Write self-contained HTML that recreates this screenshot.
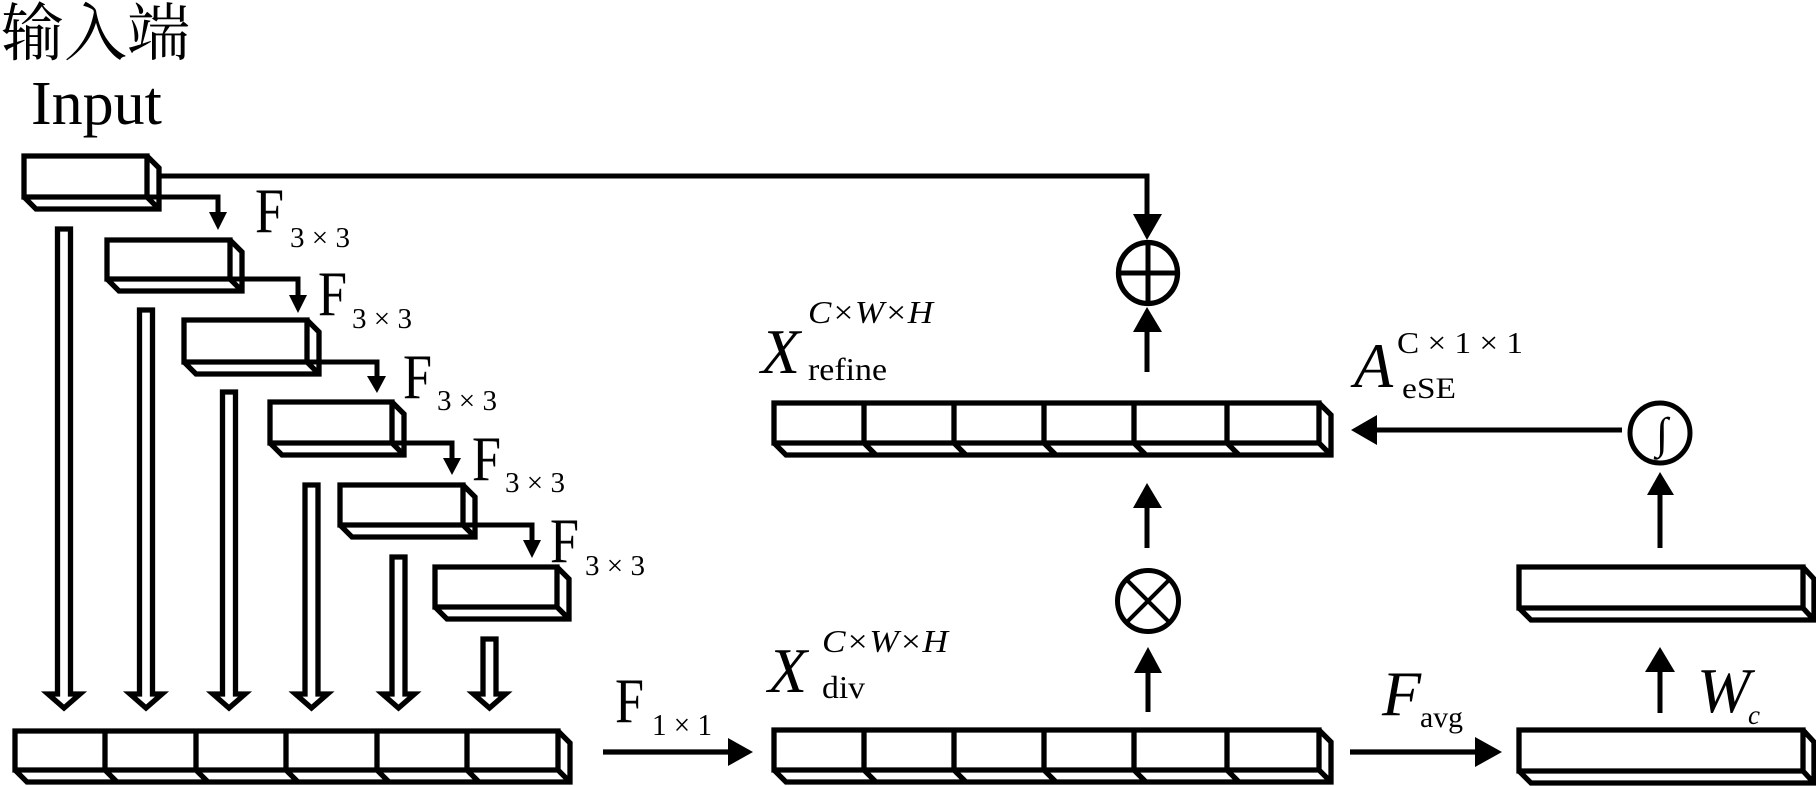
<!DOCTYPE html>
<html>
<head>
<meta charset="utf-8">
<style>
  html,body{margin:0;padding:0;background:#fff;}
  svg{display:block;}
  .r{font-family:"Liberation Serif","Noto Serif CJK SC",serif;fill:#000;}
  .i{font-family:"Liberation Serif",serif;font-style:italic;fill:#000;}
  .b{fill:#fff;stroke:#000;stroke-width:5.3;stroke-linejoin:miter;}
  .l{fill:none;stroke:#000;stroke-width:5;}
  .h{fill:#000;stroke:none;}
</style>
</head>
<body>
<svg width="1816" height="786" viewBox="0 0 1816 786" xmlns="http://www.w3.org/2000/svg">
  <rect x="0" y="0" width="1816" height="786" fill="#fff"/>

  <!-- Title -->
  <text class="r" x="1" y="55" font-size="63">输入端</text>
  <text class="r" x="31" y="124" font-size="62">Input</text>

  <!-- Top connector from input to oplus -->
  <path class="l" d="M158 176 H1147 V216"/>
  <polygon class="h" points="1133,214 1162,214 1147,240"/>

  <!-- Stair boxes -->
  <path class="b" d="M24 156 H147 V197 H24 Z M24 197 L36 209 H159 V168 L147 156 M147 197 L159 209"/>
  <path class="b" d="M107 240 H230 V279 H107 Z M107 279 L119 291 H242 V252 L230 240 M230 279 L242 291"/>
  <path class="b" d="M184 320 H307 V362 H184 Z M184 362 L196 374 H319 V332 L307 320 M307 362 L319 374"/>
  <path class="b" d="M270 402 H392 V443 H270 Z M270 443 L282 455 H404 V414 L392 402 M392 443 L404 455"/>
  <path class="b" d="M340 485 H463 V525 H340 Z M340 525 L352 537 H475 V497 L463 485 M463 525 L475 537"/>
  <path class="b" d="M435 567 H557 V607 H435 Z M435 607 L447 619 H569 V579 L557 567 M557 607 L569 619"/>

  <!-- Stair connectors -->
  <path class="l" d="M147 197 H218 V214"/>
  <polygon class="h" points="209,212 227,212 218,230"/>
  <path class="l" d="M230 279 H298 V297"/>
  <polygon class="h" points="289,295 307,295 298,313"/>
  <path class="l" d="M307 362 H377 V378"/>
  <polygon class="h" points="367,376 386,376 377,393"/>
  <path class="l" d="M392 443 H452 V460"/>
  <polygon class="h" points="443,458 461,458 452,475"/>
  <path class="l" d="M463 525 H532 V542"/>
  <polygon class="h" points="523,540 541,540 532,558"/>

  <!-- F3x3 labels -->
  <text class="r" x="255" y="232" font-size="63" textLength="29" lengthAdjust="spacingAndGlyphs">F</text>
  <text class="r" x="290" y="247" font-size="28" textLength="60" lengthAdjust="spacingAndGlyphs">3 × 3</text>
  <text class="r" x="318" y="315" font-size="63" textLength="29" lengthAdjust="spacingAndGlyphs">F</text>
  <text class="r" x="352" y="328" font-size="28" textLength="60" lengthAdjust="spacingAndGlyphs">3 × 3</text>
  <text class="r" x="403" y="398" font-size="63" textLength="29" lengthAdjust="spacingAndGlyphs">F</text>
  <text class="r" x="437" y="410" font-size="28" textLength="60" lengthAdjust="spacingAndGlyphs">3 × 3</text>
  <text class="r" x="472" y="480" font-size="63" textLength="29" lengthAdjust="spacingAndGlyphs">F</text>
  <text class="r" x="505" y="492" font-size="28" textLength="60" lengthAdjust="spacingAndGlyphs">3 × 3</text>
  <text class="r" x="550" y="562" font-size="63" textLength="29" lengthAdjust="spacingAndGlyphs">F</text>
  <text class="r" x="585" y="575" font-size="28" textLength="60" lengthAdjust="spacingAndGlyphs">3 × 3</text>

  <!-- Hollow arrows -->
  <path class="b" d="M57.5 229 H70.5 V694 H80 L64 708 L48 694 H57.5 Z"/>
  <path class="b" d="M139.5 310 H152.5 V694 H162 L146 708 L130 694 H139.5 Z"/>
  <path class="b" d="M222.5 392 H235.5 V694 H245 L229 708 L213 694 H222.5 Z"/>
  <path class="b" d="M305 485 H318 V694 H327.5 L311.5 708 L295.5 694 H305 Z"/>
  <path class="b" d="M392 557 H405 V694 H414.5 L398.5 708 L382.5 694 H392 Z"/>
  <path class="b" d="M483 639 H496 V694 H505.5 L489.5 708 L473.5 694 H483 Z"/>

  <!-- Bottom-left concatenated bar -->
  <path class="b" d="M15 731 H558 V770 H15 Z M15 770 L27 782 H570 V743 L558 731 M558 770 L570 782
    M105 731 V770 L117 782 M196 731 V770 L208 782 M286 731 V770 L298 782 M377 731 V770 L389 782 M467 731 V770 L479 782"/>

  <!-- F1x1 arrow -->
  <path class="l" style="stroke-width:5.3" d="M603 752 H730"/>
  <polygon class="h" points="728,738 728,766 753,752"/>
  <text class="r" x="615" y="722" font-size="63" textLength="29" lengthAdjust="spacingAndGlyphs">F</text>
  <text class="r" x="652" y="735" font-size="31" textLength="60" lengthAdjust="spacingAndGlyphs">1 × 1</text>

  <!-- X_div bar -->
  <path class="b" d="M774 730 H1319 V770 H774 Z M774 770 L786 782 H1331 V742 L1319 730 M1319 770 L1331 782
    M864 730 V770 L876 782 M954 730 V770 L966 782 M1044 730 V770 L1056 782 M1134 730 V770 L1146 782 M1227 730 V770 L1239 782"/>
  <text class="i" x="768" y="692" font-size="64">X</text>
  <text class="i" x="822" y="652" font-size="32" textLength="126" lengthAdjust="spacingAndGlyphs">C×W×H</text>
  <text class="r" x="822" y="698" font-size="32" textLength="43" lengthAdjust="spacingAndGlyphs">div</text>

  <!-- X_refine bar -->
  <path class="b" d="M774 403 H1319 V443 H774 Z M774 443 L786 455 H1331 V415 L1319 403 M1319 443 L1331 455
    M864 403 V443 L876 455 M954 403 V443 L966 455 M1044 403 V443 L1056 455 M1134 403 V443 L1146 455 M1227 403 V443 L1239 455"/>
  <text class="i" x="761" y="373" font-size="64">X</text>
  <text class="i" x="808" y="323" font-size="32" textLength="125" lengthAdjust="spacingAndGlyphs">C×W×H</text>
  <text class="r" x="808" y="380" font-size="32" textLength="79" lengthAdjust="spacingAndGlyphs">refine</text>

  <!-- oplus -->
  <ellipse cx="1148" cy="273" rx="29.5" ry="30.5" fill="#fff" stroke="#000" stroke-width="5.3"/>
  <path class="l" d="M1148 243 V303 M1118.5 273 H1177.5"/>
  <!-- Xrefine -> oplus -->
  <path class="l" d="M1147 372 V330"/>
  <polygon class="h" points="1133,332 1162,332 1147,307"/>

  <!-- otimes -->
  <circle cx="1148" cy="601" r="30.5" fill="#fff" stroke="#000" stroke-width="5"/>
  <path class="l" style="stroke-width:4" d="M1126.4 579.4 L1169.6 622.6 M1169.6 579.4 L1126.4 622.6"/>
  <!-- otimes -> Xrefine -->
  <path class="l" d="M1147 548 V506"/>
  <polygon class="h" points="1133,508 1162,508 1147,483"/>
  <!-- Xdiv -> otimes -->
  <path class="l" d="M1148 712 V671"/>
  <polygon class="h" points="1134,673 1162,673 1148,647"/>

  <!-- F_avg arrow -->
  <path class="l" style="stroke-width:5.3" d="M1350 752 H1477"/>
  <polygon class="h" points="1475,737 1475,767 1502,752"/>
  <text class="i" x="1382" y="715" font-size="64">F</text>
  <text class="r" x="1420" y="727" font-size="30" textLength="43" lengthAdjust="spacingAndGlyphs">avg</text>

  <!-- Right boxes -->
  <path class="b" d="M1519 730 H1803 V771 H1519 Z M1519 771 L1531 783 H1814 V742 L1803 730 M1803 771 L1814 783"/>
  <path class="b" d="M1519 567 H1803 V608 H1519 Z M1519 608 L1531 620 H1814 V579 L1803 567 M1803 608 L1814 620"/>

  <!-- lower -> upper right -->
  <path class="l" d="M1660 713 V670"/>
  <polygon class="h" points="1645,672 1675,672 1660,647"/>
  <text class="i" x="1697" y="712" font-size="64">W</text>
  <text class="i" x="1748" y="724" font-size="27">c</text>

  <!-- upper -> integral -->
  <path class="l" d="M1660 548 V493"/>
  <polygon class="h" points="1647,495 1674,495 1660,472"/>

  <!-- integral circle -->
  <circle cx="1660" cy="433" r="30" fill="#fff" stroke="#000" stroke-width="5"/>
  <text class="r" x="1662" y="448" font-size="44" text-anchor="middle" font-style="italic">∫</text>

  <!-- A_eSE arrow -->
  <path class="l" d="M1622 430 H1375"/>
  <polygon class="h" points="1377,415 1377,445 1351,430"/>
  <text class="i" x="1354" y="387" font-size="64">A</text>
  <text class="r" x="1397" y="353" font-size="31" textLength="126" lengthAdjust="spacingAndGlyphs">C × 1 × 1</text>
  <text class="r" x="1402" y="398" font-size="30" textLength="54" lengthAdjust="spacingAndGlyphs">eSE</text>
</svg>
</body>
</html>
